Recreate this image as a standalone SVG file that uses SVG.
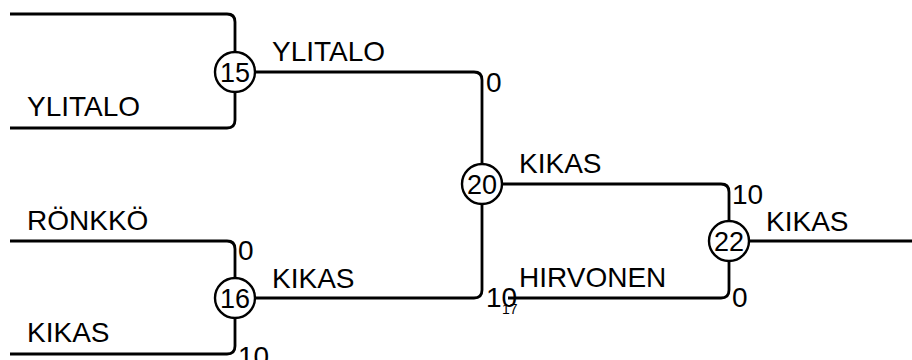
<svg xmlns="http://www.w3.org/2000/svg" width="912" height="360" viewBox="0 0 912 360">
<style>
.c{fill:none;stroke:#000;stroke-width:2.8}
.n{fill:#fff;stroke:#000;stroke-width:2.4}
.t{font-family:"Liberation Sans",Arial,sans-serif;font-size:28px;fill:#000}
.nt{font-family:"Liberation Sans",Arial,sans-serif;font-size:27px;fill:#000;text-anchor:middle}
.s{font-family:"Liberation Sans",Arial,sans-serif;font-size:14px;fill:#000}
</style>
<rect width="912" height="360" fill="#fff"/>
<g id="connectors">
<path class="c" d="M10,14 H227 Q235,14 235,22 V52"/>
<path class="c" d="M10,128 H227 Q235,128 235,120 V92"/>
<path class="c" d="M10,241 H227 Q235,241 235,249 V278"/>
<path class="c" d="M10,354 H227 Q235,354 235,346 V318"/>
<path class="c" d="M255,72 H474 Q482,72 482,80 V164"/>
<path class="c" d="M255,298 H474 Q482,298 482,290 V204"/>
<path class="c" d="M502,184 H721 Q729,184 729,192 V221"/>
<path class="c" d="M508,298 H721 Q729,298 729,290 V261"/>
<path class="c" d="M749,241 H912"/>
</g>
<g id="labels">
<text class="t" x="27" y="116">YLITALO</text>
<text class="t" x="27" y="230">RÖNKKÖ</text>
<text class="t" x="27" y="342">KIKAS</text>
<text class="t" x="272" y="61">YLITALO</text>
<text class="t" x="272" y="288">KIKAS</text>
<text class="t" x="519" y="173">KIKAS</text>
<text class="t" x="519" y="287">HIRVONEN</text>
<text class="t" x="766" y="231">KIKAS</text>
<text class="t" x="486" y="92">0</text>
<text class="t" x="486" y="307">10</text>
<text class="s" x="502" y="314">17</text>
<text class="t" x="238" y="260">0</text>
<text class="t" x="238" y="366">10</text>
<text class="t" x="732" y="204">10</text>
<text class="t" x="732" y="307">0</text>
</g>
<g id="node15"><circle class="n" cx="235" cy="72" r="20"/><text class="nt" x="235" y="82">15</text></g>
<g id="node16"><circle class="n" cx="235" cy="298" r="20"/><text class="nt" x="235" y="308">16</text></g>
<g id="node20"><circle class="n" cx="482" cy="184" r="20"/><text class="nt" x="482" y="194">20</text></g>
<g id="node22"><circle class="n" cx="729" cy="241" r="20"/><text class="nt" x="729" y="251">22</text></g>
</svg>
